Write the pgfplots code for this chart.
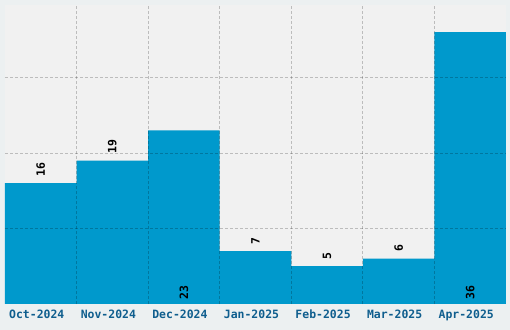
\documentclass[border=0pt]{standalone}
\usepackage{pgfplots}
\pgfplotsset{compat=1.18}
\usepackage{fontspec}
\newfontfamily\monob{DejaVu Sans Mono}[BoldFont={DejaVu Sans Mono Bold}]
\definecolor{outerbg}{HTML}{ECF0F1}
\definecolor{plotbg}{HTML}{F1F1F1}
\definecolor{barblue}{HTML}{0099CC}
\definecolor{ticktext}{HTML}{0F5E8E}
\begin{document}
\begin{tikzpicture}
\path[use as bounding box, fill=outerbg] (-5bp,-26bp) rectangle (505bp,304bp);
\begin{axis}[
  at={(0,0)}, anchor=south west,
  scale only axis, width=501bp, height=299bp,
  xmin=-0.5, xmax=6.5, ymin=0, ymax=39.6,
  enlargelimits=false,
  axis background/.style={fill=plotbg},
  axis line style={draw=none},
  tick style={draw=none},
  axis on top,
  xtick={0,1,2,3,4,5,6},
  xticklabels={Oct-2024,Nov-2024,Dec-2024,Jan-2025,Feb-2025,Mar-2025,Apr-2025},
  xticklabel style={font=\monob\bfseries\fontsize{11.5}{12}\selectfont, text=ticktext, yshift=-2.7bp, xshift=-4bp},
  minor xtick={0.5,1.5,2.5,3.5,4.5,5.5},
  xminorgrids,
  ytick={10,20,30},
  yticklabels={,,},
  ymajorgrids,
  major grid style={draw=black, opacity=0.22, line width=0.8bp, dash pattern=on 3bp off 2bp},
  minor grid style={draw=black, opacity=0.22, line width=0.8bp, dash pattern=on 3bp off 2bp},
]
\addplot[ybar, bar width=1, fill=barblue, draw=none] coordinates {
  (0,16) (1,19) (2,23) (3,7) (4,5) (5,6) (6,36)};
\addplot[draw=none, mark=none, nodes near coords, point meta=explicit symbolic,
  nodes near coords style={rotate=90, anchor=west, inner sep=0pt, inner xsep=6.5bp,
    font=\monob\bfseries\fontsize{11.5}{12}\selectfont, text=black}]
  coordinates {(0,16)[16] (1,19)[19] (3,7)[7] (4,5)[5] (5,6)[6]};
\addplot[draw=none, mark=none, nodes near coords, point meta=explicit symbolic,
  nodes near coords style={rotate=90, anchor=west, inner sep=0pt, inner xsep=4.5bp,
    font=\monob\bfseries\fontsize{11.5}{12}\selectfont, text=black}]
  coordinates {(2,0)[23] (6,0)[36]};
\end{axis}
\end{tikzpicture}
\end{document}
